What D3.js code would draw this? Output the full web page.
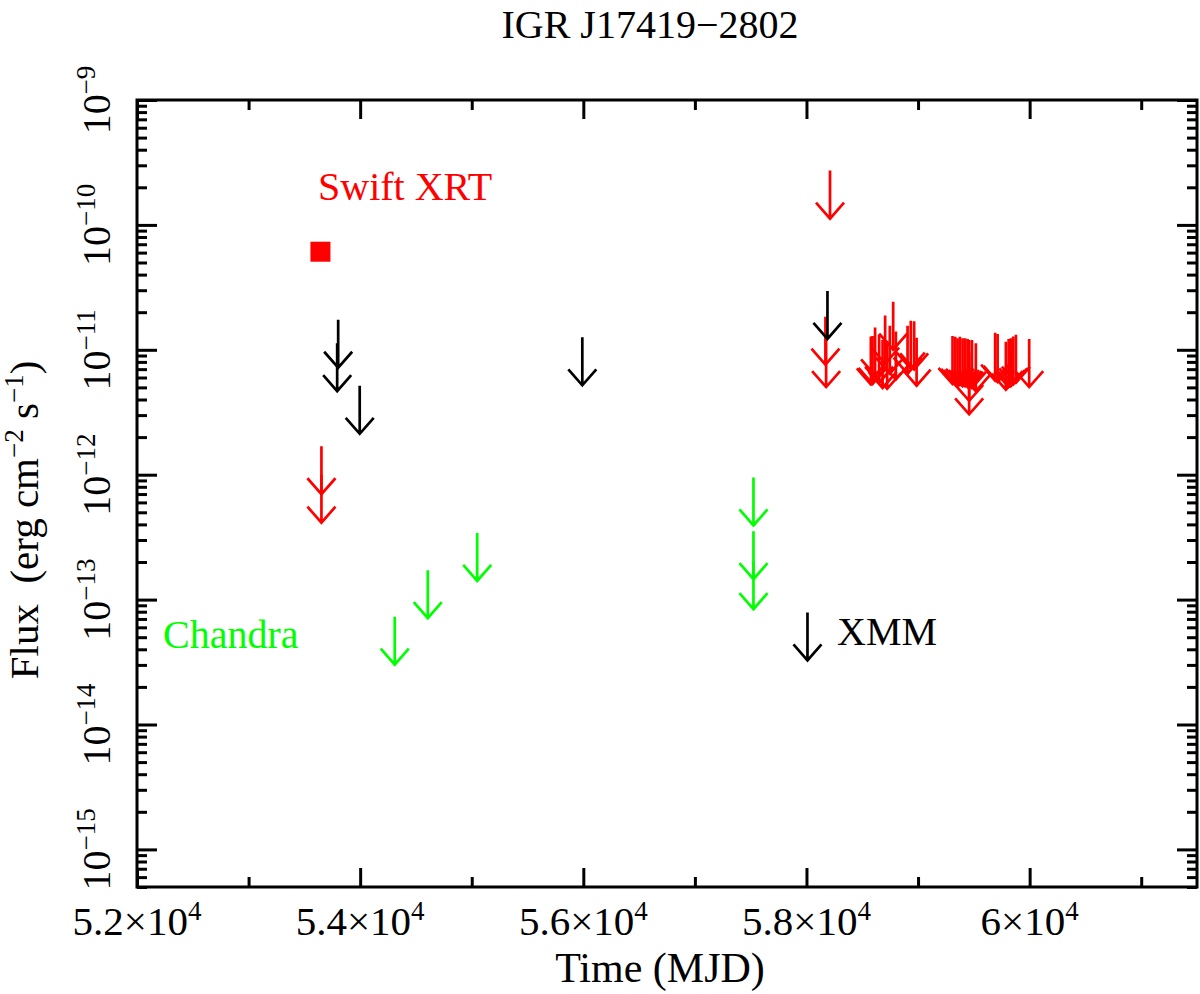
<!DOCTYPE html>
<html>
<head>
<meta charset="utf-8">
<script src="https://cdn.jsdelivr.net/npm/d3@7"></script>
<style>
  body { margin: 0; background: #fff; }
  text { font-family: "Liberation Serif", "Times New Roman", serif; }
</style>
</head>
<body>
<div id="chart"></div>
<script>
const TITLE = 'IGR J17419\u22122802';

// x axis (MJD)
const xMajorTicks = [52000, 54000, 56000, 58000, 60000];
const xMajorLabels = ['5.2\u00d710', '5.4\u00d710', '5.6\u00d710', '5.8\u00d710', '6\u00d710'];
const xLabelExp = '4';
const xMinorTicks = [53000, 55000, 57000, 59000, 61000];

// y axis (flux), decades
const yDecadeExps = [-9, -10, -11, -12, -13, -14, -15];

// Swift XRT detection
const swiftDetMjd = [53644];
const swiftDetFlux = [6.1e-11];

// Swift XRT upper limits
const swiftUlMjd = [53653, 53653, 58211, 58170, 58176,
  58577, 58592, 58615, 58651, 58682, 58705, 58723, 58747, 58777, 58801, 58906, 58935, 58965, 58987,
  59309, 59333, 59354, 59375, 59399, 59422, 59444, 59458, 59458, 59458, 59483, 59518,
  59691, 59713, 59787, 59812, 59832, 59853, 59877, 59996];
const swiftUlFlux = [1.69e-12, 1.0e-12, 2.72e-10, 1.84e-11, 1.22e-11,
  1.28e-11, 1.29e-11, 1.51e-11, 1.32e-11, 1.20e-11, 1.88e-11, 1.18e-11, 1.56e-11, 2.43e-11, 1.40e-11, 1.56e-11, 1.71e-11, 1.69e-11, 1.25e-11,
  1.29e-11, 1.27e-11, 1.24e-11, 1.27e-11, 1.24e-11, 1.24e-11, 1.22e-11, 1.20e-11, 9.46e-12, 7.38e-12, 1.20e-11, 1.13e-11,
  1.37e-11, 1.34e-11, 1.16e-11, 1.22e-11, 1.24e-11, 1.28e-11, 1.32e-11, 1.22e-11];

// XMM upper limits
const xmmUlMjd = [53803, 53794, 53996, 55991, 58009, 58188];
const xmmUlFlux = [1.74e-11, 1.13e-11, 5.15e-12, 1.26e-11, 7.9e-14, 2.96e-11];

// Chandra upper limits
const chandraUlMjd = [54310, 54606, 55049, 57525, 57525, 57525];
const chandraUlFlux = [7.3e-14, 1.72e-13, 3.42e-13, 9.5e-13, 3.53e-13, 2.03e-13];

const W = 1200, H = 994;
const margin = { left: 137, right: 3, top: 100, bottom: 107 };

const svg = d3.select('#chart').append('svg')
  .attr('width', W)
  .attr('height', H);

const x = d3.scaleLinear().domain([52000, 61500]).range([margin.left, W - margin.right]);
const y = d3.scaleLog().domain([5e-16, 1e-9]).range([H - margin.bottom, margin.top]);

const x0 = x.range()[0], x1 = x.range()[1];
const y0 = y.range()[0], y1 = y.range()[1];

// minor y ticks: 2..9 x 10^n inside domain
const yMinorTicks = [];
for (let e = -16; e <= -10; e++) {
  for (let k = 2; k <= 9; k++) {
    const v = k * Math.pow(10, e);
    if (v >= 5e-16 && v <= 1e-9) yMinorTicks.push(v);
  }
}
const yMajorTicks = yDecadeExps.map(e => Math.pow(10, e));

function styleAxis(g) {
  g.select('.domain').remove();
  g.selectAll('.tick line').attr('stroke', '#000').attr('stroke-width', 3);
}

// ticks, pointing inside on all four sides
svg.append('g').attr('transform', 'translate(0,' + y0 + ')')
  .call(d3.axisBottom(x).tickValues(xMajorTicks).tickSize(-19).tickFormat('')).call(styleAxis);
svg.append('g').attr('transform', 'translate(0,' + y0 + ')')
  .call(d3.axisBottom(x).tickValues(xMinorTicks).tickSize(-10).tickFormat('')).call(styleAxis);
svg.append('g').attr('transform', 'translate(0,' + y1 + ')')
  .call(d3.axisTop(x).tickValues(xMajorTicks).tickSize(-19).tickFormat('')).call(styleAxis);
svg.append('g').attr('transform', 'translate(0,' + y1 + ')')
  .call(d3.axisTop(x).tickValues(xMinorTicks).tickSize(-10).tickFormat('')).call(styleAxis);

svg.append('g').attr('transform', 'translate(' + x0 + ',0)')
  .call(d3.axisLeft(y).tickValues(yMajorTicks).tickSize(-20).tickFormat('')).call(styleAxis);
svg.append('g').attr('transform', 'translate(' + x0 + ',0)')
  .call(d3.axisLeft(y).tickValues(yMinorTicks).tickSize(-10).tickFormat('')).call(styleAxis);
svg.append('g').attr('transform', 'translate(' + x1 + ',0)')
  .call(d3.axisRight(y).tickValues(yMajorTicks).tickSize(-20).tickFormat('')).call(styleAxis);
svg.append('g').attr('transform', 'translate(' + x1 + ',0)')
  .call(d3.axisRight(y).tickValues(yMinorTicks).tickSize(-10).tickFormat('')).call(styleAxis);

// frame
svg.append('rect')
  .attr('x', x0).attr('y', y1)
  .attr('width', x1 - x0).attr('height', y0 - y1)
  .attr('fill', 'none').attr('stroke', '#000').attr('stroke-width', 3);

// x tick labels with superscript exponent
xMajorTicks.forEach((v, i) => {
  const t = svg.append('text')
    .attr('x', x(v)).attr('y', 935)
    .attr('text-anchor', 'middle')
    .attr('font-size', 41);
  t.append('tspan').text(xMajorLabels[i]);
  t.append('tspan').attr('dy', -15).attr('font-size', 27).text(xLabelExp);
});

// y tick labels, rotated
yDecadeExps.forEach(e => {
  const t = svg.append('text')
    .attr('transform', 'translate(110,' + y(Math.pow(10, e)) + ') rotate(-90)')
    .attr('text-anchor', 'middle')
    .attr('font-size', 40);
  t.append('tspan').text('10');
  t.append('tspan').attr('dy', -15).attr('font-size', 27).text('\u2212' + Math.abs(e));
});

// axis titles
svg.append('text')
  .attr('x', 660).attr('y', 982)
  .attr('text-anchor', 'middle')
  .attr('font-size', 42)
  .text('Time (MJD)');

const yl = svg.append('text')
  .attr('transform', 'translate(38,520) rotate(-90)')
  .attr('text-anchor', 'middle')
  .attr('font-size', 41);
yl.append('tspan').text('Flux\u00a0\u00a0(erg cm');
yl.append('tspan').attr('dy', -15).attr('font-size', 27).text('\u22122');
yl.append('tspan').attr('dy', 15).text('\u00a0s');
yl.append('tspan').attr('dy', -15).attr('font-size', 27).text('\u22121');
yl.append('tspan').attr('dy', 15).text(')');

svg.append('text')
  .attr('x', 650).attr('y', 38)
  .attr('text-anchor', 'middle')
  .attr('font-size', 40)
  .text(TITLE);

// upper-limit arrows: stem starts at the limit and points down
const ARROW_LEN = 48, HEAD_W = 14, HEAD_H = 16;
function arrowPath(d) {
  const px = x(d[0]), top = y(d[1]), tip = top + ARROW_LEN;
  return 'M' + px + ',' + top + 'L' + px + ',' + tip +
    'M' + (px - HEAD_W) + ',' + (tip - HEAD_H) + 'L' + px + ',' + tip + 'L' + (px + HEAD_W) + ',' + (tip - HEAD_H);
}
function drawLimits(mjds, fluxes, color) {
  svg.append('g')
    .selectAll('path')
    .data(d3.zip(mjds, fluxes))
    .join('path')
    .attr('d', arrowPath)
    .attr('fill', 'none')
    .attr('stroke', color)
    .attr('stroke-width', 2.7);
}

drawLimits(swiftUlMjd, swiftUlFlux, '#ff0000');
drawLimits(xmmUlMjd, xmmUlFlux, '#000000');
drawLimits(chandraUlMjd, chandraUlFlux, '#00ff00');

// Swift detection square
svg.append('g')
  .selectAll('rect')
  .data(d3.zip(swiftDetMjd, swiftDetFlux))
  .join('rect')
  .attr('x', d => x(d[0]) - 10)
  .attr('y', d => y(d[1]) - 10)
  .attr('width', 20).attr('height', 20)
  .attr('fill', '#ff0000');

// instrument labels
svg.append('text').attr('x', 318).attr('y', 200).attr('font-size', 40)
  .attr('fill', '#ff0000').text('Swift XRT');
svg.append('text').attr('x', 163).attr('y', 648).attr('font-size', 40)
  .attr('fill', '#00ff00').text('Chandra');
svg.append('text').attr('x', 837).attr('y', 645).attr('font-size', 40)
  .attr('fill', '#000000').text('XMM');
</script>
</body>
</html>
